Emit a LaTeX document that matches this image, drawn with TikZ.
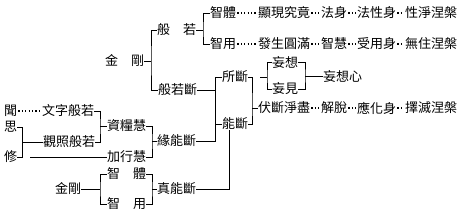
\documentclass[tikz,border=0pt]{standalone}
\usepackage{fontspec}
\usepackage{tikz}
\usetikzlibrary{positioning}
\newfontfamily\cjk{Noto Sans CJK TC}
\tikzset{
    term/.style ={inner sep=0pt, anchor=west, font=\cjk\fontsize{13}{13}\selectfont},
    ln/.style   ={line width=0.8pt, draw=black},
    lead/.style ={line width=1.2pt, draw=black, dash pattern=on 1.2pt off 2.2pt,
                  shorten <=1pt, shorten >=1pt}
}

\begin{document}
\begin{tikzpicture}[x=1pt, y=-1pt]
  \useasboundingbox (0,0) rectangle (465,213);

  % upper tree
  \node[term] (jgA) at (105, 61) {金　剛};
  \node[term] (br)  at (157, 30) {般　若};
  \node[term] (brd) at (158, 90) {般若斷};
  \node[term] (zt)  at (210, 13) {智體};
  \node[term] (zy)  at (210, 44) {智用};

  \node[term] (xx)  at (258, 13) {顯現究竟};
  \node[term] (fs)  at (321, 13) {法身};
  \node[term] (fx)  at (357, 13) {法性身};
  \node[term] (xj)  at (405, 13) {性淨涅槃};

  \node[term] (fsh) at (258, 44) {發生圓滿};
  \node[term] (zh)  at (321, 44) {智慧};
  \node[term] (sy)  at (357, 44) {受用身};
  \node[term] (wz)  at (405, 44) {無住涅槃};

  \node[term] (sd)  at (222, 77)  {所斷};
  \node[term] (nd)  at (222, 124) {能斷};
  \node[term] (wx)  at (272, 62)  {妄想};
  \node[term] (wj)  at (272, 89)  {妄見};
  \node[term] (wxx) at (323, 76)  {妄想心};

  \node[term] (fd)  at (258, 108) {伏斷淨盡};
  \node[term] (jt)  at (321, 108) {解脫};
  \node[term] (yh)  at (357, 108) {應化身};
  \node[term] (zm)  at (405, 108) {擇滅涅槃};

  % lower tree
  \node[term] (wen) at (4, 111) {聞};
  \node[term] (si)  at (4, 127) {思};
  \node[term] (xiu) at (4, 157) {修};
  \node[term] (wzb) at (42, 111) {文字般若};
  \node[term] (gz)  at (43, 142) {觀照般若};
  \node[term] (zl)  at (107, 126) {資糧慧};
  \node[term] (jx)  at (107, 157) {加行慧};
  \node[term] (yn)  at (157, 141) {緣能斷};
  \node[term] (jgB) at (55, 189)  {金剛};
  \node[term] (zt2) at (107, 174) {智　體};
  \node[term] (zy2) at (107, 204) {智　用};
  \node[term] (zn)  at (157, 189) {真能斷};

  % bracket joints
  \coordinate (b1)  at (151, 61);
  \coordinate (b2)  at (203, 30);
  \coordinate (b3)  at (215, 141);
  \coordinate (b4)  at (229, 189);
  \coordinate (b5)  at (252, 108);
  \coordinate (s6)  at (260, 77);
  \coordinate (b6)  at (267, 77);
  \coordinate (b7)  at (305, 76);
  \coordinate (b8)  at (22, 142);
  \coordinate (s8)  at (30, 157);
  \coordinate (b9)  at (100, 126);
  \coordinate (b10) at (152, 141);
  \coordinate (b11) at (100, 189);
  \coordinate (b12) at (152, 189);

  \draw[ln] (jgA.east) -- (b1);
  \draw[ln] (br.west) -| (b1) |- (brd.west);
  \draw[ln] (br.east) -- (b2);
  \draw[ln] (zt.west) -| (b2) |- (zy.west);

  \draw[ln] (sd.west) -| (b3) -- (yn.east);
  \draw[ln] (brd.east) -- (brd.east -| b3);
  \draw[ln] (nd.west) -- (nd.west -| b3);
  \draw[ln] (zn.east) -- (b4) -- (b4 |- nd.south);

  \draw[ln] (sd.east) -| (b5) |- (nd.east);
  \draw[ln] (b5) -- (fd.west);
  \draw[ln] (s6) -- (b6);
  \draw[ln] (wx.west) -| (b6) |- (wj.west);
  \draw[ln] (wx.east) -| (b7) |- (wj.east);
  \draw[ln] (b7) -- (wxx.west);

  \draw[ln] (si.east) -| (b8) -- (gz.west);
  \draw[ln] (xiu.east) -| (b8);
  \draw[ln] (s8) -- (jx.west);
  \draw[ln] (wzb.east) -| (b9) |- (gz.east);
  \draw[ln] (b9) -- (zl.west);
  \draw[ln] (zl.east) -| (b10) |- (jx.east);
  \draw[ln] (b10) -- (yn.west);
  \draw[ln] (jgB.east) -- (b11);
  \draw[ln] (zt2.west) -| (b11) |- (zy2.west);
  \draw[ln] (zt2.east) -| (b12) |- (zy2.east);
  \draw[ln] (b12) -- (zn.west);

  % dotted leaders
  \draw[lead] (zt.east) -- (xx.west);
  \draw[lead] (xx.east) -- (fs.west);
  \draw[lead] (fs.east) -- (fx.west);
  \draw[lead] (fx.east) -- (xj.west);
  \draw[lead] (zy.east) -- (fsh.west);
  \draw[lead] (fsh.east) -- (zh.west);
  \draw[lead] (zh.east) -- (sy.west);
  \draw[lead] (sy.east) -- (wz.west);
  \draw[lead] (fd.east) -- (jt.west);
  \draw[lead] (jt.east) -- (yh.west);
  \draw[lead] (yh.east) -- (zm.west);
  \draw[lead] (wen.east) -- (wzb.west);
\end{tikzpicture}
\end{document}
